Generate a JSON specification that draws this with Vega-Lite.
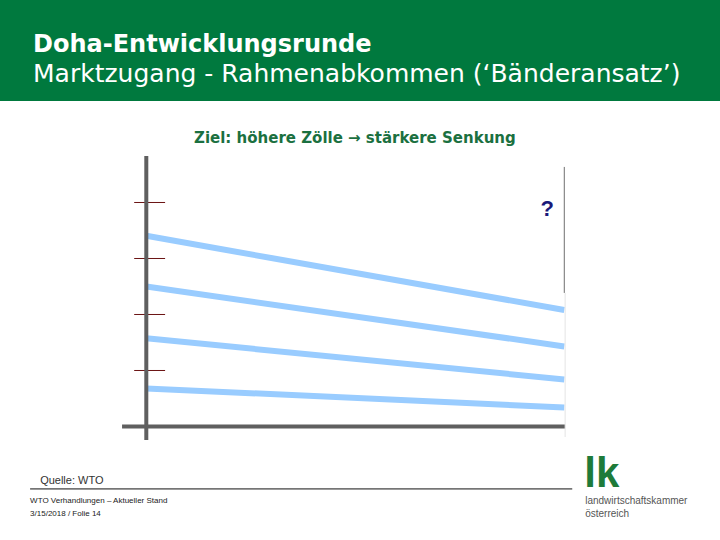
{
  "$schema": "https://vega.github.io/schema/vega-lite/v6.json",
  "width": 720,
  "height": 540,
  "autosize": {"type": "fit", "contains": "padding"},
  "padding": 0,
  "background": "white",
  "config": {"view": {"stroke": null}, "font": "Liberation Sans"},
  "datasets": {
    "baender": [
      {"band": "1", "punkt": 0, "zoll": 68.1},
      {"band": "1", "punkt": 100, "zoll": 41.6},
      {"band": "2", "punkt": 0, "zoll": 50.0},
      {"band": "2", "punkt": 100, "zoll": 28.6},
      {"band": "3", "punkt": 0, "zoll": 31.5},
      {"band": "3", "punkt": 100, "zoll": 16.8},
      {"band": "4", "punkt": 0, "zoll": 13.6},
      {"band": "4", "punkt": 100, "zoll": 6.8}
    ],
    "grenzen": [{"grenze": 20}, {"grenze": 40}, {"grenze": 60}, {"grenze": 80}]
  },
  "layer": [
    {
      "data": {"values": [{"f": "kopf"}]},
      "mark": {"type": "rect", "color": "#00793e"},
      "encoding": {
        "x": {"datum": -35, "type": "quantitative", "scale": {"domain": [-35, 137.25], "nice": false, "zero": false}, "axis": null},
        "x2": {"datum": 137.25},
        "y": {"datum": 116.25, "type": "quantitative", "scale": {"domain": [-40.54, 152.32], "nice": false, "zero": false}, "axis": null},
        "y2": {"datum": 152.32}
      }
    },
    {
      "data": {"values": [{"t": "Doha-Entwicklungsrunde"}]},
      "mark": {"type": "text", "align": "left", "baseline": "alphabetic", "font": "DejaVu Sans", "fontSize": 24, "fontWeight": "bold", "color": "white"},
      "encoding": {
        "x": {"datum": -27.1, "type": "quantitative"},
        "y": {"datum": 133.75, "type": "quantitative"},
        "text": {"field": "t"}
      }
    },
    {
      "data": {"values": [{"t": "Marktzugang - Rahmenabkommen (‘Bänderansatz’)"}]},
      "mark": {"type": "text", "align": "left", "baseline": "alphabetic", "font": "DejaVu Sans", "fontSize": 25, "color": "white"},
      "encoding": {
        "x": {"datum": -27.1, "type": "quantitative"},
        "y": {"datum": 122.86, "type": "quantitative"},
        "text": {"field": "t"}
      }
    },
    {
      "data": {"values": [{"t": "Ziel: höhere Zölle → stärkere Senkung"}]},
      "mark": {"type": "text", "align": "center", "baseline": "alphabetic", "font": "DejaVu Sans", "fontSize": 15, "fontWeight": "bold", "color": "#1b7040"},
      "encoding": {
        "x": {"datum": 49.9, "type": "quantitative"},
        "y": {"datum": 101.07, "type": "quantitative"},
        "text": {"field": "t"}
      }
    },
    {
      "data": {"name": "baender"},
      "mark": {"type": "line", "color": "#99ccff", "strokeWidth": 6, "strokeCap": "butt"},
      "encoding": {
        "x": {"field": "punkt", "type": "quantitative"},
        "y": {"field": "zoll", "type": "quantitative"},
        "detail": {"field": "band"}
      }
    },
    {
      "data": {"name": "grenzen"},
      "mark": {"type": "rule", "color": "#6b1414", "strokeWidth": 1},
      "encoding": {
        "x": {"datum": -2.9, "type": "quantitative"},
        "x2": {"datum": 4.5},
        "y": {"field": "grenze", "type": "quantitative"}
      }
    },
    {
      "data": {"values": [{"f": "y"}]},
      "mark": {"type": "rule", "color": "#5f5f5f", "strokeWidth": 4},
      "encoding": {
        "x": {"datum": 0, "type": "quantitative"},
        "y": {"datum": -4.8, "type": "quantitative"},
        "y2": {"datum": 96.6}
      }
    },
    {
      "data": {"values": [{"f": "x"}]},
      "mark": {"type": "rule", "color": "#5f5f5f", "strokeWidth": 4},
      "encoding": {
        "x": {"datum": -5.8, "type": "quantitative"},
        "x2": {"datum": 100.2},
        "y": {"datum": 0, "type": "quantitative"}
      }
    },
    {
      "data": {"values": [{"f": "r"}]},
      "mark": {"type": "rule", "color": "#707070", "strokeWidth": 1},
      "encoding": {
        "x": {"datum": 100, "type": "quantitative"},
        "y": {"datum": 47.7, "type": "quantitative"},
        "y2": {"datum": 92.7}
      }
    },
    {
      "data": {"values": [{"f": "r2"}]},
      "mark": {"type": "rule", "color": "#e4e4e4", "strokeWidth": 1},
      "encoding": {
        "x": {"datum": 100.2, "type": "quantitative"},
        "y": {"datum": -3.75, "type": "quantitative"},
        "y2": {"datum": 47.7}
      }
    },
    {
      "data": {"values": [{"t": "?"}]},
      "mark": {"type": "text", "align": "center", "baseline": "alphabetic", "fontSize": 22, "fontWeight": "bold", "color": "#1a1a7a"},
      "encoding": {
        "x": {"datum": 95.9, "type": "quantitative"},
        "y": {"datum": 75.0, "type": "quantitative"},
        "text": {"field": "t"}
      }
    },
    {
      "data": {"values": [{"t": "Quelle: WTO"}]},
      "mark": {"type": "text", "align": "left", "baseline": "alphabetic", "fontSize": 11, "color": "#333333"},
      "encoding": {
        "x": {"datum": -25.4, "type": "quantitative"},
        "y": {"datum": -20.7, "type": "quantitative"},
        "text": {"field": "t"}
      }
    },
    {
      "data": {"values": [{"f": "fuss"}]},
      "mark": {"type": "rule", "color": "#111111", "strokeWidth": 1},
      "encoding": {
        "x": {"datum": -27.8, "type": "quantitative"},
        "x2": {"datum": 101.9},
        "y": {"datum": -22.3, "type": "quantitative"}
      }
    },
    {
      "data": {"values": [{"t": "WTO Verhandlungen – Aktueller Stand"}]},
      "mark": {"type": "text", "align": "left", "baseline": "alphabetic", "fontSize": 8, "color": "#222222"},
      "encoding": {
        "x": {"datum": -27.8, "type": "quantitative"},
        "y": {"datum": -27.5, "type": "quantitative"},
        "text": {"field": "t"}
      }
    },
    {
      "data": {"values": [{"t": "3/15/2018 / Folie 14"}]},
      "mark": {"type": "text", "align": "left", "baseline": "alphabetic", "fontSize": 8, "color": "#222222"},
      "encoding": {
        "x": {"datum": -27.8, "type": "quantitative"},
        "y": {"datum": -31.96, "type": "quantitative"},
        "text": {"field": "t"}
      }
    },
    {
      "data": {"values": [{"t": "lk"}]},
      "mark": {"type": "text", "align": "left", "baseline": "alphabetic", "fontSize": 42, "fontWeight": "bold", "color": "#1e7b3a"},
      "encoding": {
        "x": {"datum": 104.8, "type": "quantitative"},
        "y": {"datum": -21.6, "type": "quantitative"},
        "text": {"field": "t"}
      }
    },
    {
      "data": {"values": [{"t": "landwirtschaftskammer"}]},
      "mark": {"type": "text", "align": "left", "baseline": "alphabetic", "fontSize": 10, "color": "#555555"},
      "encoding": {
        "x": {"datum": 105.0, "type": "quantitative"},
        "y": {"datum": -27.6, "type": "quantitative"},
        "text": {"field": "t"}
      }
    },
    {
      "data": {"values": [{"t": "österreich"}]},
      "mark": {"type": "text", "align": "left", "baseline": "alphabetic", "fontSize": 10, "color": "#555555"},
      "encoding": {
        "x": {"datum": 105.0, "type": "quantitative"},
        "y": {"datum": -32.2, "type": "quantitative"},
        "text": {"field": "t"}
      }
    }
  ]
}
